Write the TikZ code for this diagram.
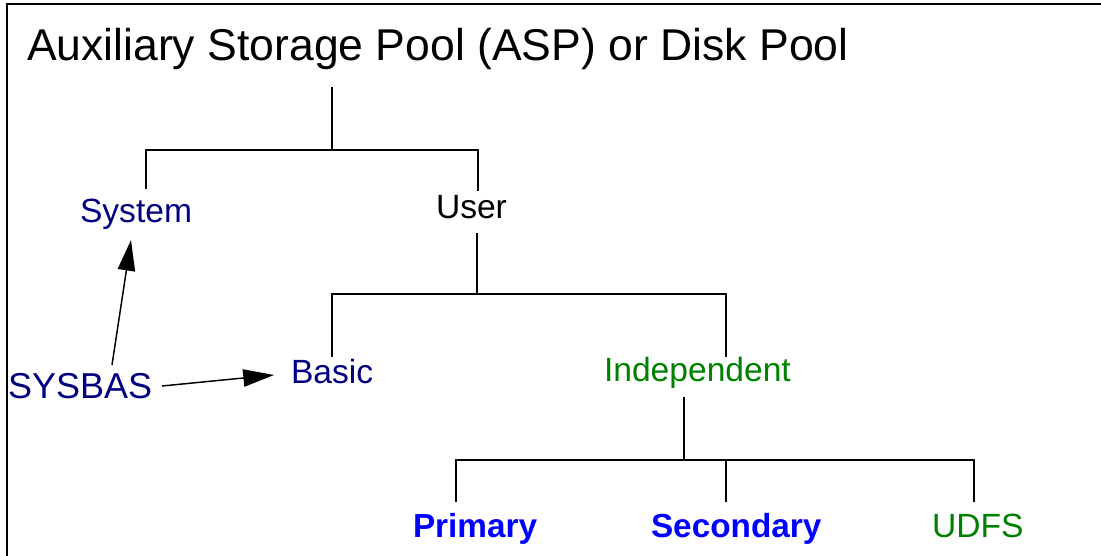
\documentclass[tikz,border=0pt]{standalone}
\usepackage{fontspec}
\setmainfont{Liberation Sans}
\usetikzlibrary{arrows.meta}
\definecolor{navyc}{RGB}{0,0,128}
\definecolor{greenc}{RGB}{0,128,0}
\definecolor{bluec}{RGB}{0,0,255}
\tikzset{
  lbl/.style={anchor=base west, inner sep=0pt, outer sep=0pt, font=\fontsize{25.2}{30}\selectfont},
  tree/.style={draw=black, line width=1.1pt},
  frame/.style={draw=black, line width=1.5pt},
  arr/.style={draw=black, line width=1.1pt, -{Triangle[length=23pt,width=13pt]}}
}
\begin{document}
\begin{tikzpicture}[x=0.75pt,y=-0.75pt]
\useasboundingbox (0,0) rectangle (1101,556);
% frame
\coordinate (fbl) at (7,556);
\coordinate (ftl) at (7,4);
\coordinate (ftr) at (1101,4);
\draw[frame] (fbl) -- (ftl) -- (ftr);
% labels
\node[lbl, font=\fontsize{33.4}{40}\selectfont] (title) at (27,61) {Auxiliary Storage Pool (ASP) or Disk Pool};
\node[lbl, text=navyc] (system) at (80,223) {System};
\node[lbl] (user) at (436,219) {User};
\node[lbl, text=navyc] (basic) at (291,383) {Basic};
\node[lbl, text=greenc] (indep) at (604,382) {Independent};
\node[lbl, text=navyc, font=\fontsize{27}{32}\selectfont] (sysbas) at (8,398) {SYSBAS};
\node[lbl, text=bluec, font=\fontsize{25}{30}\selectfont\bfseries] (primary) at (413,537) {Primary};
\node[lbl, text=bluec, font=\fontsize{25}{30}\selectfont\bfseries] (secondary) at (651,537) {Secondary};
\node[lbl, text=greenc] (udfs) at (932,537) {UDFS};
% tree level 1
\coordinate (t1) at (332,87);
\coordinate (j1) at (332,150);
\coordinate (s1) at (146,150);
\coordinate (s1b) at (146,189);
\coordinate (u1) at (478,150);
\coordinate (u1b) at (478,191);
\draw[tree] (t1) -- (j1);
\draw[tree] (s1b) -- (s1) -- (u1) -- (u1b);
% tree level 2
\coordinate (t2) at (477,233);
\coordinate (j2) at (477,294);
\coordinate (b2) at (332,294);
\coordinate (b2b) at (332,357);
\coordinate (i2) at (726,294);
\coordinate (i2b) at (726,357);
\draw[tree] (t2) -- (j2);
\draw[tree] (b2b) -- (b2) -- (i2) -- (i2b);
% tree level 3
\coordinate (t3) at (684,397);
\coordinate (j3) at (684,460);
\coordinate (p3) at (456,460);
\coordinate (p3b) at (456,502);
\coordinate (s3) at (726,460);
\coordinate (s3b) at (726,502);
\coordinate (d3) at (974,460);
\coordinate (d3b) at (974,502);
\draw[tree] (t3) -- (j3);
\draw[tree] (p3b) -- (p3) -- (d3) -- (d3b);
\draw[tree] (s3) -- (s3b);
% arrows
\coordinate (a1s) at (112,365);
\coordinate (a1e) at (131,240);
\coordinate (a2s) at (162,386);
\coordinate (a2e) at (274,375);
\draw[arr] (a1s) -- (a1e);
\draw[arr] (a2s) -- (a2e);
\end{tikzpicture}
\end{document}
